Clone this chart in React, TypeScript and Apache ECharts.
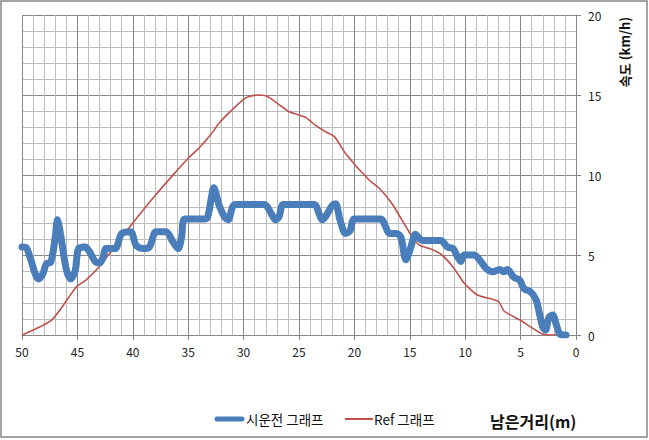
import React, { useEffect, useRef } from "react";
import * as echarts from "echarts";

// 남은거리 (m) and 속도 (km/h)
const testRunX = [50, 49.6, 49.3, 48.5, 48.1, 47.8, 47.4, 47.0, 46.8, 46.5, 46.0, 45.6, 45.2, 44.9, 44.3, 43.9, 43.4, 43.0, 42.7, 42.4, 41.6, 41.0, 40.2, 39.7, 39.1, 38.5, 37.9, 37.0, 36.4, 35.9, 35.6, 35.3, 33.7, 33.3, 32.9, 32.7, 32.2, 31.7, 31.4, 31.0, 30.7, 28.1, 27.6, 27.1, 26.8, 26.4, 23.6, 23.2, 22.9, 22.6, 22.0, 21.7, 21.3, 20.8, 20.4, 20.0, 17.6, 17.2, 16.85, 16.2, 15.8, 15.35, 14.9, 14.5, 14.1, 13.8, 12.2, 11.6, 11.1, 10.7, 10.4, 10.1, 9.2, 8.6, 8.1, 7.5, 6.9, 6.5, 6.2, 5.6, 5.1, 4.7, 4.1, 3.6, 3.3, 3.0, 2.75, 2.45, 2.1, 1.8, 1.5, 1.2, 0.9];
const testRunY = [5.5, 5.45, 4.9, 3.5, 3.85, 4.45, 4.55, 6.1, 7.2, 6.2, 4.1, 3.5, 4.0, 5.4, 5.5, 5.2, 4.6, 4.5, 4.8, 5.4, 5.4, 6.35, 6.45, 5.6, 5.4, 5.5, 6.45, 6.45, 5.85, 5.4, 6.1, 7.25, 7.25, 7.3, 8.6, 9.2, 8.1, 7.35, 7.2, 8.0, 8.15, 8.15, 7.7, 7.2, 7.4, 8.15, 8.15, 7.6, 7.2, 7.4, 8.1, 8.2, 7.2, 6.35, 6.5, 7.25, 7.25, 6.8, 6.35, 6.35, 6.1, 4.7, 5.5, 6.3, 6.0, 5.9, 5.9, 5.5, 5.4, 4.9, 4.6, 5.0, 5.0, 4.6, 4.15, 3.95, 4.1, 3.95, 4.1, 3.6, 3.45, 2.9, 2.7, 2.2, 1.35, 0.5, 0.3, 1.1, 1.25, 0.7, 0.1, 0, 0];

const refX = [50, 47.3, 45.1, 44.2, 43.0, 40.0, 38.0, 36.5, 35.0, 34.0, 33.0, 32.2, 31.3, 30.06, 29.5, 28.7, 28.0, 27.6, 27.1, 26.5, 25.9, 25.2, 24.4, 23.5, 22.6, 21.8, 20.8, 18.7, 17.8, 16.6, 14.8, 14.1, 13.2, 12.1, 11.1, 10.1, 8.9, 7.0, 6.5, 5.1, 3.0, 2.0, 0.9];
const refY = [0, 0.95, 3.0, 3.45, 4.3, 7.0, 8.7, 9.9, 11.05, 11.7, 12.5, 13.25, 13.9, 14.7, 14.9, 15.0, 14.95, 14.8, 14.55, 14.25, 13.95, 13.8, 13.6, 13.1, 12.7, 12.4, 11.35, 9.7, 9.2, 8.2, 6.15, 5.6, 5.4, 5.0, 4.25, 3.25, 2.5, 2.1, 1.5, 0.95, 0.05, 0, 0];

const seriesNames = ["시운전 그래프", "Ref 그래프"];
const xAxisTitle = "남은거리(m)";
const yAxisTitle = "속도 (km/h)";

const FONT = '"Noto Sans CJK KR", "Noto Sans", sans-serif';
const BLUE = "#4A7EBB";
const RED = "#C0504D";

export default function App() {
  const ref = useRef<HTMLDivElement>(null);
  useEffect(() => {
    if (!ref.current) return;
    const chart = echarts.init(ref.current, null, { renderer: "svg" });
    const blue = testRunX.map((x, i) => [x, testRunY[i]]);
    const red = refX.map((x, i) => [x, refY[i]]);
    const legendText = (text: string, x: number) => ({
      type: "text",
      x,
      y: 419,
      style: {
        text,
        fontSize: 13.5,
        fontFamily: FONT,
        fill: "#111",
        align: "left",
        verticalAlign: "middle",
      },
    });
    chart.setOption({
      animation: false,
      backgroundColor: "#ffffff",
      textStyle: { fontFamily: FONT },
      grid: { left: 22, right: 73, top: 15, bottom: 105 },
      xAxis: {
        type: "value",
        min: 0,
        max: 50,
        interval: 5,
        inverse: true,
        axisLine: { show: true, lineStyle: { color: "#868686", width: 1 } },
        axisTick: { show: true, length: 5, lineStyle: { color: "#868686" } },
        axisLabel: { fontSize: 12, color: "#222", margin: 10, fontFamily: FONT },
        splitLine: { show: true, lineStyle: { color: "#868686", width: 1 } },
        minorTick: { show: false, splitNumber: 5 },
        minorSplitLine: { show: true, lineStyle: { color: "#bdbdbd", width: 1 } },
      },
      yAxis: {
        type: "value",
        position: "right",
        min: 0,
        max: 20,
        interval: 5,
        axisLine: { show: true, lineStyle: { color: "#868686", width: 1 } },
        axisTick: { show: true, length: 5, lineStyle: { color: "#868686" } },
        axisLabel: { fontSize: 12, color: "#222", margin: 12, fontFamily: FONT },
        splitLine: { show: true, lineStyle: { color: "#868686", width: 1 } },
        minorTick: { show: false, splitNumber: 5 },
        minorSplitLine: { show: true, lineStyle: { color: "#bdbdbd", width: 1 } },
      },
      legend: { show: false },
      series: [
        {
          name: seriesNames[1],
          type: "line",
          data: red,
          symbol: "none",
          smooth: 0.2,
          lineStyle: { color: RED, width: 1.6 },
          itemStyle: { color: RED },
          z: 2,
        },
        {
          name: seriesNames[0],
          type: "line",
          data: blue,
          symbol: "none",
          smooth: 0.3,
          lineStyle: { color: BLUE, width: 7, cap: "round", join: "round" },
          itemStyle: { color: BLUE },
          z: 3,
        },
      ],
      graphic: [
        {
          type: "rect",
          shape: { x: 1, y: 1, width: 646, height: 436 },
          style: { fill: "none", stroke: "#868686", lineWidth: 1.5 },
          silent: true,
        },
        {
          type: "line",
          shape: { x1: 217, y1: 419, x2: 242, y2: 419 },
          style: { stroke: BLUE, lineWidth: 5, lineCap: "round" },
        },
        legendText(seriesNames[0], 246),
        {
          type: "line",
          shape: { x1: 345, y1: 419, x2: 373, y2: 419 },
          style: { stroke: RED, lineWidth: 2 },
        },
        legendText(seriesNames[1], 374),
        {
          type: "text",
          x: 624,
          y: 52,
          rotation: Math.PI / 2,
          style: {
            text: yAxisTitle,
            fontSize: 13,
            fontWeight: "bold",
            fontFamily: FONT,
            fill: "#111",
            align: "center",
            verticalAlign: "middle",
          },
        },
        {
          type: "text",
          x: 490,
          y: 421,
          style: {
            text: xAxisTitle,
            fontSize: 16,
            fontWeight: "bold",
            fontFamily: FONT,
            fill: "#111",
            align: "left",
            verticalAlign: "middle",
          },
        },
      ],
    });
    return () => chart.dispose();
  }, []);
  return (
    <div
      ref={ref}
      style={{ position: "fixed", left: 0, top: 0, width: 649, height: 440 }}
    />
  );
}
